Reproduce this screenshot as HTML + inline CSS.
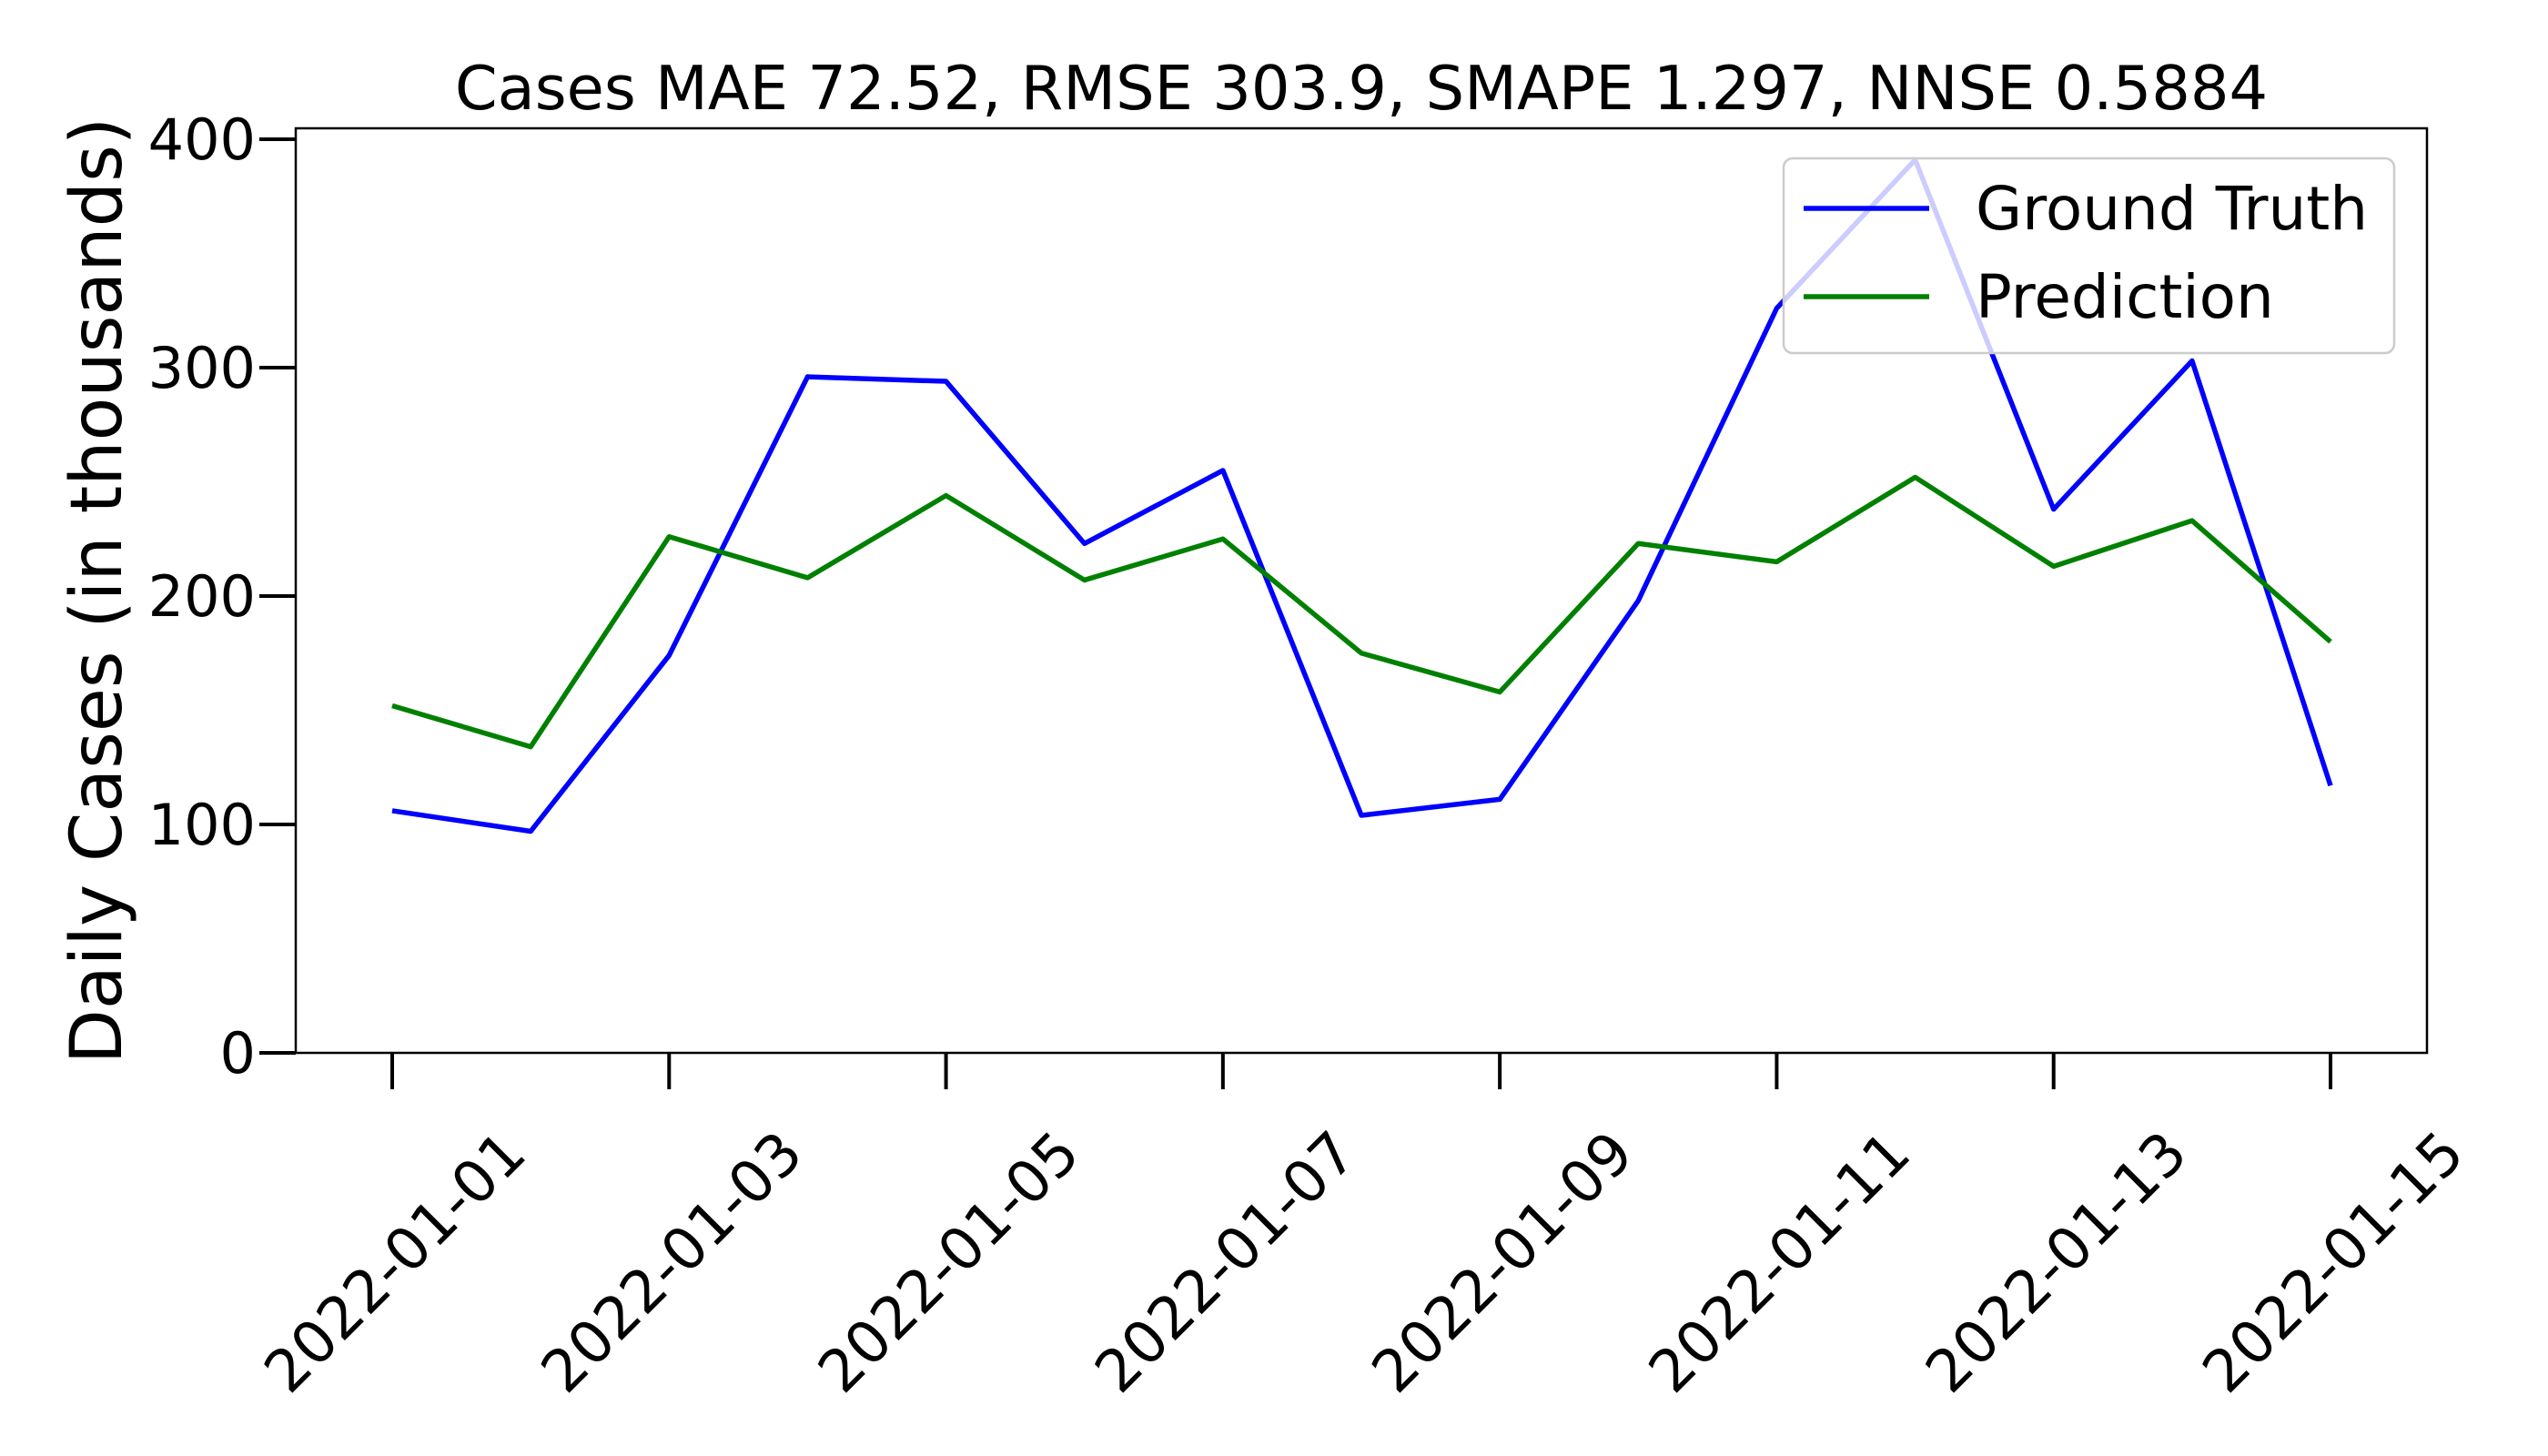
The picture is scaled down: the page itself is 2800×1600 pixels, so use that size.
<!DOCTYPE html>
<html><head><meta charset="utf-8"><style>
html,body{margin:0;padding:0;background:#fff}
svg{display:block}
text{font-family:"DejaVu Sans","Liberation Sans",sans-serif;fill:#000}
</style></head><body>
<svg id="chart" width="2800" height="1600" viewBox="0 0 2800 1600">
<text x="1496" y="120" font-size="67" text-anchor="middle">Cases MAE 72.52, RMSE 303.9, SMAPE 1.297, NNSE 0.5884</text>
<text transform="translate(133,649) rotate(-90)" font-size="78" text-anchor="middle">Daily Cases (in thousands)</text>
<g id="grid"></g>
<g id="series"></g>
<rect x="325" y="141" width="2342" height="1016" fill="none" stroke="#000" stroke-width="2.5"/>
<g id="legend">
<rect x="1960" y="174" width="671" height="214" rx="10" fill="#fff" fill-opacity="0.8" stroke="#ccc" stroke-width="2.5"/>
<line x1="1982" y1="229" x2="2120" y2="229" stroke="#0000ff" stroke-width="5.5"/>
<text x="2171" y="252" font-size="66">Ground Truth</text>
<line x1="1982" y1="326" x2="2120" y2="326" stroke="#008000" stroke-width="5.5"/>
<text x="2171" y="349" font-size="66">Prediction</text>
</g>
</svg>
<script>
const dates = ["2022-01-01","2022-01-02","2022-01-03","2022-01-04","2022-01-05","2022-01-06","2022-01-07","2022-01-08","2022-01-09","2022-01-10","2022-01-11","2022-01-12","2022-01-13","2022-01-14","2022-01-15"];
const groundTruth = [106,97,174,296,294,223,255,104,111,198,326,391,238,303,117];
const prediction = [152,134,226,208,244,207,225,175,158,223,215,252,213,233,180];
const yTicks = [0,100,200,300,400];
const xTickLabels = ["2022-01-01","2022-01-03","2022-01-05","2022-01-07","2022-01-09","2022-01-11","2022-01-13","2022-01-15"];

const NS = "http://www.w3.org/2000/svg";
function xScale(i){ return 431 + i * (2561 - 431) / 14; }
function yScale(v){ return 1157 - v * (1157 - 153) / 400; }
const grid = document.getElementById('grid');
const series = document.getElementById('series');

yTicks.forEach(v => {
  const y = yScale(v);
  const t = document.createElementNS(NS,'line');
  t.setAttribute('x1',285); t.setAttribute('x2',325); t.setAttribute('y1',y); t.setAttribute('y2',y);
  t.setAttribute('stroke','#000'); t.setAttribute('stroke-width','4');
  
  
  grid.appendChild(t);
  const l = document.createElementNS(NS,'text');
  l.setAttribute('x',281); l.setAttribute('y',y+22); l.setAttribute('font-size','62'); l.setAttribute('text-anchor','end');
  l.textContent = v;
  
  
  grid.appendChild(l);
});

xTickLabels.forEach(lbl => {
  const i = dates.indexOf(lbl);
  const x = xScale(i);
  const t = document.createElementNS(NS,'line');
  t.setAttribute('x1',x); t.setAttribute('x2',x); t.setAttribute('y1',1157); t.setAttribute('y2',1197);
  t.setAttribute('stroke','#000'); t.setAttribute('stroke-width','4');
  
  
  grid.appendChild(t);
  const l = document.createElementNS(NS,'text');
  const px = x + 150, py = 1271;
  l.setAttribute('x',px); l.setAttribute('y',py); l.setAttribute('font-size','64'); l.setAttribute('text-anchor','end');
  l.setAttribute('transform','rotate(-45 '+px+' '+py+')');
  l.textContent = lbl;
  
  
  grid.appendChild(l);
});

function drawLine(vals, color, name){
  const p = document.createElementNS(NS,'polyline');
  p.setAttribute('points', vals.map((v,i)=>xScale(i)+','+yScale(v)).join(' '));
  p.setAttribute('fill','none'); p.setAttribute('stroke',color); p.setAttribute('stroke-width','5.5');
  p.setAttribute('stroke-linejoin','round');
  
  
  series.appendChild(p);
}
drawLine(groundTruth,'#0000ff','ground-truth-line');
drawLine(prediction,'#008000','prediction-line');
</script>
</body></html>
